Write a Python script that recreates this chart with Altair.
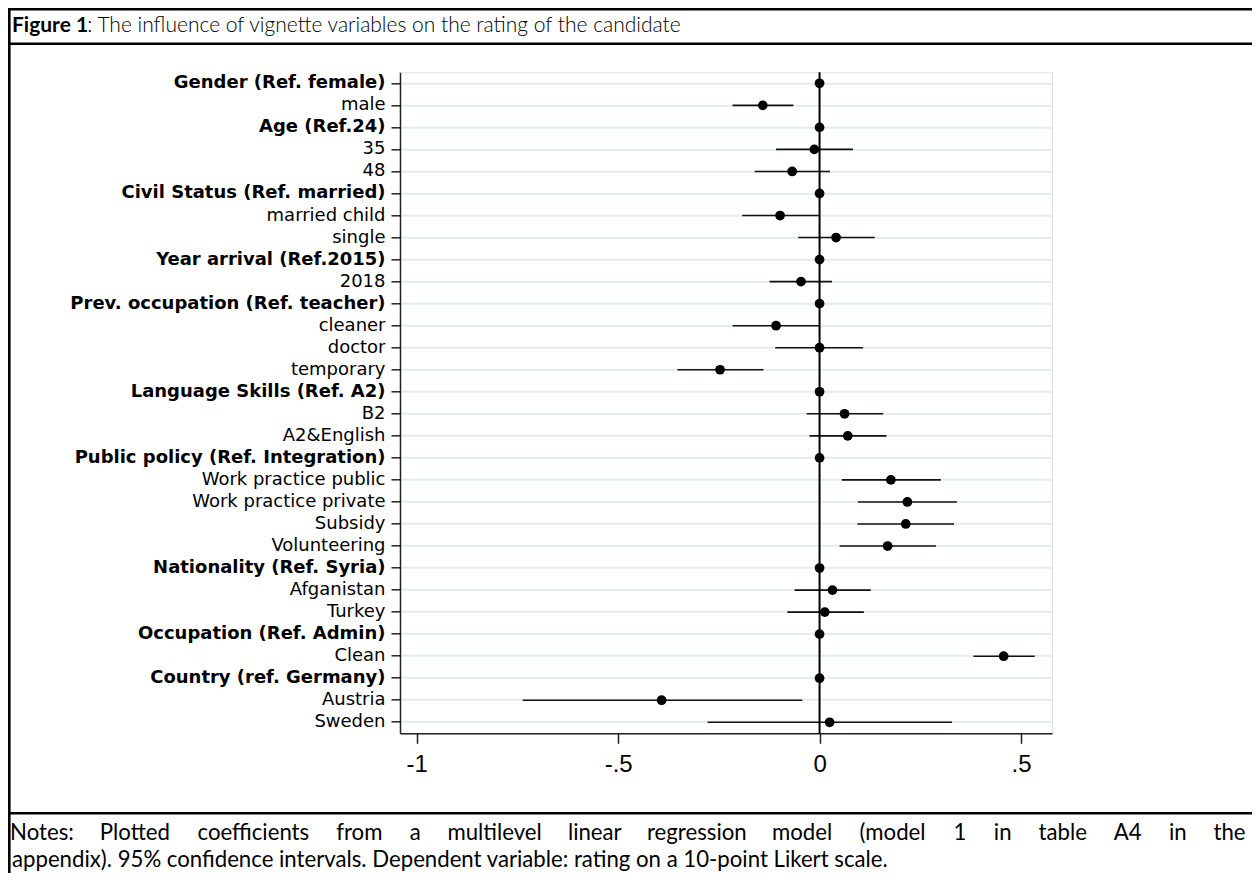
import json
import altair as alt
import pandas as pd

# ---------------- data ----------------
labels = [
    "Gender (Ref. female)", "male",
    "Age (Ref.24)", "35", "48",
    "Civil Status (Ref. married)", "married child", "single",
    "Year arrival (Ref.2015)", "2018",
    "Prev. occupation (Ref. teacher)", "cleaner", "doctor", "temporary",
    "Language Skills (Ref. A2)", "B2", "A2&English",
    "Public policy (Ref. Integration)", "Work practice public",
    "Work practice private", "Subsidy", "Volunteering",
    "Nationality (Ref. Syria)", "Afganistan", "Turkey",
    "Occupation (Ref. Admin)", "Clean",
    "Country (ref. Germany)", "Austria", "Sweden",
]
headers = [
    "Gender (Ref. female)", "Age (Ref.24)", "Civil Status (Ref. married)",
    "Year arrival (Ref.2015)", "Prev. occupation (Ref. teacher)",
    "Language Skills (Ref. A2)", "Public policy (Ref. Integration)",
    "Nationality (Ref. Syria)", "Occupation (Ref. Admin)",
    "Country (ref. Germany)",
]
coef = [0, -0.141, 0, -0.013, -0.068, 0, -0.098, 0.041, 0, -0.046,
        0, -0.108, 0.0, -0.247, 0, 0.062, 0.070, 0, 0.177, 0.218,
        0.214, 0.169, 0, 0.032, 0.013, 0, 0.457, 0, -0.392, 0.025]
ci_lo = [None, -0.216, None, -0.108, -0.161, None, -0.192, -0.053, None, -0.124,
         None, -0.216, -0.110, -0.353, None, -0.032, -0.025, None, 0.055, 0.095,
         0.094, 0.050, None, -0.062, -0.080, None, 0.382, None, -0.737, -0.278]
ci_hi = [None, -0.065, None, 0.083, 0.026, None, -0.002, 0.137, None, 0.031,
         None, -0.001, 0.108, -0.139, None, 0.158, 0.166, None, 0.301, 0.341,
         0.334, 0.289, None, 0.127, 0.110, None, 0.534, None, -0.043, 0.329]

tick_values = [-1, -0.5, 0, 0.5]
tick_labels = ["-1", "-.5", "0", ".5"]

title_bold = "Figure 1"
title_rest = ": The influence of vignette variables on the rating of the candidate"
notes_line1 = ("Notes: Plotted coefficients from a multilevel linear regression model "
               "(model 1 in table A4 in the")
notes_line2 = ("appendix). 95% confidence intervals. Dependent variable: rating on a "
               "10-point Likert scale.")

df = pd.DataFrame({"label": labels, "coef": coef, "lo": ci_lo, "hi": ci_hi})
one = pd.DataFrame({"a": [0]})

# ---------------- layout helpers (page pixel -> plot pixel) ----------------
OX, OY = 400.0, 72.3
W, H = 652, 661


def px(x):
    return x - OX


def py(y):
    return y - OY


def text_width(s, fs, bold=False):
    w = 0.0
    for c in s:
        if c == " ":
            w += 0.26
        elif c in "il.,:;|'j":
            w += 0.24
        elif c in "ftr()I":
            w += 0.34
        elif c in "s":
            w += 0.41
        elif c in "cezxvykag":
            w += 0.50
        elif c in "mw":
            w += 0.82
        elif c.isdigit():
            w += 0.58
        elif c == "%":
            w += 0.80
        elif c == "-":
            w += 0.34
        elif c.isupper():
            w += 0.66
        else:
            w += 0.55
    return w * fs * (1.04 if bold else 1.0)


x_scale = alt.Scale(domain=[-1.0415, 0.577], nice=False, zero=False)
label_expr = " : ".join(
    f"datum.value == {v} ? '{t}'" for v, t in zip(tick_values[:-1], tick_labels[:-1])
) + f" : '{tick_labels[-1]}'"

x_axis = alt.Axis(
    values=tick_values, labelExpr=label_expr, title=None, grid=False,
    labelFont="Liberation Sans", labelFontSize=24, labelColor="black",
    tickSize=10, tickColor="#222", tickWidth=1.5,
    domainColor="#222", domainWidth=1.5, labelPadding=9,
)
bold_test = "indexof(" + json.dumps(headers) + ", datum.value) >= 0"
y_axis = alt.Axis(
    title=None, grid=True, gridColor="#e2ebee", gridWidth=2,
    labelFont="DejaVu Sans", labelFontSize=18, labelColor="black",
    labelFontWeight={"condition": {"test": bold_test, "value": "bold"}, "value": "normal"},
    labelLimit=500, labelPadding=6,
    tickSize=9, tickColor="#222", tickWidth=1.5,
    domainColor="#222", domainWidth=1.5,
)
y_enc = alt.Y("label:N", sort=labels, axis=y_axis)

zero = alt.Chart(one).transform_calculate(z="0").mark_rule(
    color="black", strokeWidth=2
).encode(x=alt.X("z:Q", scale=x_scale, axis=x_axis, title=None))

ci = alt.Chart(df).mark_rule(color="#111", strokeWidth=1.6).encode(
    x=alt.X("lo:Q", scale=x_scale, title=None), x2="hi:Q", y=y_enc
)
pts = alt.Chart(df).mark_circle(color="black", size=95, opacity=1).encode(
    x=alt.X("coef:Q", scale=x_scale, title=None), y=y_enc
)

layers = [ci, zero, pts]

# ---------------- frame ----------------
def hline(ypage):
    return alt.Chart(one).mark_rule(color="black", strokeWidth=2.6).encode(
        x=alt.value(px(8)), x2=alt.value(px(1260)), y=alt.value(py(ypage))
    )


layers += [hline(9.3), hline(43.7), hline(813.3)]
layers.append(
    alt.Chart(one).mark_rule(color="black", strokeWidth=2.6).encode(
        x=alt.value(px(9.3)), y=alt.value(py(8)), y2=alt.value(py(882))
    )
)

# ---------------- title ----------------
TFS = 21
tx0 = 12
layers.append(
    alt.Chart(one).mark_text(
        text=title_bold, font="Lato", fontWeight="bold", fontSize=TFS,
        align="left", baseline="alphabetic", color="black"
    ).encode(x=alt.value(px(tx0)), y=alt.value(py(32)))
)
layers.append(
    alt.Chart(one).mark_text(
        text=title_rest, font="Lato", fontWeight=300, fontSize=TFS,
        align="left", baseline="alphabetic", color="black"
    ).encode(x=alt.value(px(tx0 + text_width(title_bold, TFS, True) - 4)), y=alt.value(py(32)))
)

# ---------------- notes (first line justified) ----------------
NFS = 22.2
words = notes_line1.split()
ww = [text_width(w, NFS) for w in words]
left, right = 12.0, 1245.0
gap = (right - left - sum(ww)) / (len(words) - 1)
xpos = left
for w, wd in zip(words, ww):
    layers.append(
        alt.Chart(one).mark_text(
            text=w, font="Lato", fontSize=NFS, align="center",
            baseline="alphabetic", color="black"
        ).encode(x=alt.value(px(xpos + wd / 2)), y=alt.value(py(840)))
    )
    xpos += wd + gap
layers.append(
    alt.Chart(one).mark_text(
        text=notes_line2, font="Lato", fontSize=NFS, align="left",
        baseline="alphabetic", color="black"
    ).encode(x=alt.value(px(12)), y=alt.value(py(867)))
)

chart = alt.layer(*layers).properties(
    width=W, height=H,
    autosize=alt.AutoSizeParams(type="none"),
    padding={"left": 392, "top": 64.3, "right": 200, "bottom": 140},
).configure_view(strokeWidth=0).configure(background="white")

chart.save("out.html", embed_options={"renderer": "svg", "actions": False})
